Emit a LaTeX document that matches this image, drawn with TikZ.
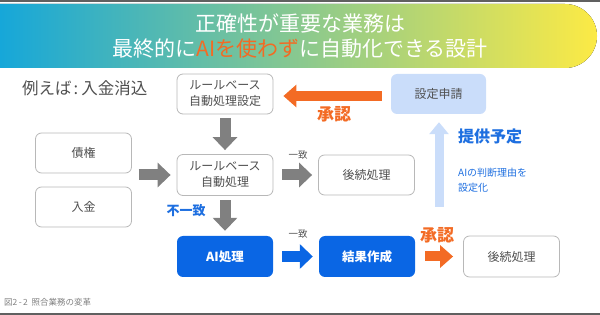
\documentclass[tikz,border=0pt]{standalone}
\usepackage{fontspec}
\setmainfont{Noto Sans CJK JP}
\usetikzlibrary{arrows.meta,calc}
\definecolor{boxgray}{HTML}{B8B8B8}
\definecolor{txtgray}{HTML}{505050}
\definecolor{arrgray}{HTML}{808080}
\definecolor{mblue}{HTML}{0A66E4}
\definecolor{lblue}{HTML}{CADDFA}
\definecolor{morange}{HTML}{F36B24}
\definecolor{tblue}{HTML}{1E6FE0}
\definecolor{bannerA}{HTML}{16A7D9}
\definecolor{bannerB}{HTML}{68C49C}
\definecolor{bannerC}{HTML}{FCEA45}
\definecolor{lineg}{HTML}{606060}
\tikzset{
  graybox/.style={draw=boxgray, line width=0.8pt, rounded corners=6pt, fill=white,
    text=txtgray, minimum width=96pt, minimum height=40pt, align=center,
    inner sep=2pt, font=\fontsize{12}{16}\selectfont},
  bluebox/.style={fill=mblue, rounded corners=6pt, text=white,
    minimum width=96pt, minimum height=41pt, align=center,
    font=\fontsize{12.5}{16}\selectfont\bfseries},
  lightbox/.style={fill=lblue, rounded corners=6pt, text=txtgray,
    minimum width=95pt, minimum height=40pt, align=center,
    font=\fontsize{12}{16}\selectfont},
  grayarrow/.style={draw=arrgray, line width=11pt, -{Triangle[width=24pt,length=13pt]}},
  bluearrow/.style={draw=mblue, line width=11pt, -{Triangle[width=24pt,length=13pt]}},
  orangearrow/.style={draw=morange, line width=10pt, -{Triangle[width=22pt,length=13pt]}},
  uparrow/.style={draw=lblue, line width=9pt, -{Triangle[width=19pt,length=12pt]}},
  smalllabel/.style={text=txtgray, font=\fontsize{9.5}{12}\selectfont, inner sep=0pt},
  boldlabel/.style={font=\fontsize{#1}{#1}\selectfont\bfseries, inner sep=0pt},
}
\begin{document}
\begin{tikzpicture}[x=1pt,y=-1pt]
\useasboundingbox (0,0) rectangle (600,315);
% frame lines
\fill[lineg] (0,0) rectangle (600,2);
\fill[lineg] (0,312.5) rectangle (600,315);
% banner
\fill[left color=bannerA, middle color=bannerB, right color=bannerC]
  (0,4) -- (565,4) arc[start angle=-90, end angle=90, radius=32] -- (0,68) -- cycle;
\node[text=white, font=\fontsize{21}{26}\selectfont, inner sep=0pt] (t1) at (300,23) {正確性が重要な業務は};
\node[text=white, font=\fontsize{21}{26}\selectfont, inner sep=0pt] (t2) at (300,49) {最終的に\textcolor{morange}{AIを使わず}に自動化できる設計};
% heading
\node[anchor=west, text=txtgray, font=\fontsize{16.5}{20}\selectfont, inner sep=0pt] (ex) at (22,88) {例えば\hspace{2pt}:\hspace{3pt}入金消込};
% boxes
\node[graybox] (rbs) at (225,94) {ルールベース\\自動処理設定};
\node[graybox, minimum height=41pt] (rb) at (225,175) {ルールベース\\自動処理};
\node[graybox] (saiken) at (83.5,153) {債権};
\node[graybox] (nyukin) at (83.5,207) {入金};
\node[graybox] (follow1) at (366.5,175) {後続処理};
\node[lightbox] (shinsei) at (438.5,94) {設定申請};
\node[bluebox] (ai) at (225,256.5) {AI処理};
\node[bluebox] (kekka) at (367,256.5) {結果作成};
\node[graybox, minimum height=41pt] (follow2) at (511.5,256.5) {後続処理};
% input arrow
\coordinate (inS) at ($(rb.west)+(-38,0)$);
\coordinate (inE) at ($(rb.west)+(-6,0)$);
\draw[grayarrow] (inS) -- (inE);
% arrows
\draw[grayarrow] ($(rbs.south)+(0,4)$) -- ($(rb.north)+(0,-4)$);
\draw[grayarrow] ($(rb.east)+(9,0)$) -- ($(follow1.west)+(-6,0)$);
\draw[grayarrow] ($(rb.south)+(0,4.5)$) -- ($(ai.north)+(0,-5)$);
\draw[bluearrow] ($(ai.east)+(9,0)$) -- ($(kekka.west)+(-6,0)$);
\draw[orangearrow] ($(kekka.east)+(10,0)$) -- ($(follow2.west)+(-10,0)$);
\draw[orangearrow] ($(shinsei.west)+(-9,2)$) -- ($(rbs.east)+(10,2)$);
\coordinate (upS) at (439,207);
\draw[uparrow] (upS) -- ($(shinsei.south)+(0.5,8)$);
% labels
\node[smalllabel] (l1) at (298,155) {一致};
\node[smalllabel] (l2) at (298,234) {一致};
\node[boldlabel=13, text=tblue] (l3) at (186,211) {不一致};
\node[boldlabel=17, text=morange] (l4) at (334,114) {承認};
\node[boldlabel=17, text=morange] (l5) at (437,235) {承認};
\node[boldlabel=16, text=tblue, anchor=west] (l6) at (458,136) {提供予定};
\node[anchor=west, text=tblue, font=\fontsize{10}{15}\selectfont, inner sep=0pt, align=left] (l7) at (458,180.5) {AIの判断理由を\\設定化};
% caption
\node[anchor=west, text=gray, font=\fontsize{8.5}{10}\selectfont, inner sep=0pt] (cap) at (4,302) {図2\,-\,2\ \ 照合業務の変革};
\end{tikzpicture}
\end{document}
